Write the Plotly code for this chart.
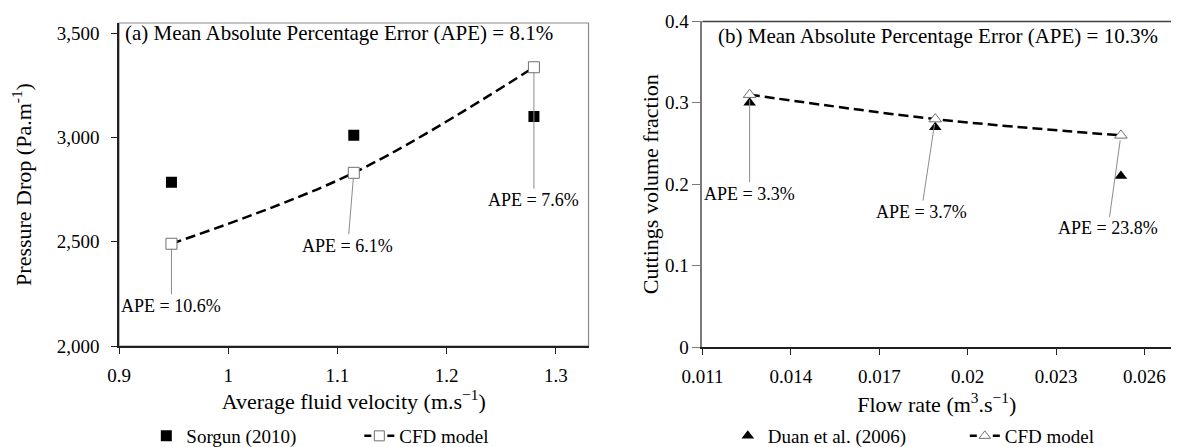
import plotly.graph_objects as go

# ---------------- data ----------------
velocity = [0.948, 1.115, 1.28]
sorgun = [2785, 3010, 3100]
cfd_a = [2490, 2830, 3336]
ape_a = ["APE = 10.6%", "APE = 6.1%", "APE = 7.6%"]

flow = [0.0126, 0.0189, 0.0252]
duan = [0.30, 0.27, 0.21]
cfd_b = [0.31, 0.28, 0.26]
ape_b = ["APE = 3.3%", "APE = 3.7%", "APE = 23.8%"]

xticks_a = [0.9, 1, 1.1, 1.2, 1.3]
yticks_a = [2000, 2500, 3000, 3500]
xticks_b = [0.011, 0.014, 0.017, 0.02, 0.023, 0.026]
yticks_b = [0, 0.1, 0.2, 0.3, 0.4]

title_a = "(a) Mean Absolute Percentage Error (APE) = 8.1%"
title_b = "(b) Mean Absolute Percentage Error (APE) = 10.3%"

# ---------------- styling ----------------
FONT = "Liberation Serif, Times New Roman, serif"
W, H = 1194, 447
GRAY = "#8c8c8c"
MARKER_EDGE = "#707070"

fig = go.Figure()

# panel (a)
fig.add_trace(go.Scatter(
    x=velocity, y=sorgun, mode="markers", name="Sorgun (2010)",
    marker=dict(symbol="square", size=11, color="black"),
    xaxis="x", yaxis="y", legend="legend"))
fig.add_trace(go.Scatter(
    x=velocity, y=cfd_a, mode="lines+markers", name="CFD model",
    line=dict(color="black", width=2.5, dash="10px,5px", shape="spline"),
    marker=dict(symbol="square", size=11, color="white",
                line=dict(color=MARKER_EDGE, width=1)),
    xaxis="x", yaxis="y", showlegend=False))
# legend proxy with "- □ -" look
fig.add_trace(go.Scatter(
    x=[None], y=[None], mode="lines+markers", name="CFD model",
    line=dict(color="black", width=2.5, dash="7px,16px,7px"),
    marker=dict(symbol="square", size=10, color="white",
                line=dict(color=MARKER_EDGE, width=1)),
    xaxis="x", yaxis="y", legend="legend"))

# panel (b)
fig.add_trace(go.Scatter(
    x=flow, y=duan, mode="markers", name="Duan et al. (2006)",
    marker=dict(symbol="triangle-up", size=11, color="black"),
    xaxis="x2", yaxis="y2", legend="legend2"))
fig.add_trace(go.Scatter(
    x=flow, y=cfd_b, mode="lines+markers", name="CFD model",
    line=dict(color="black", width=2.5, dash="10px,5px", shape="spline"),
    marker=dict(symbol="triangle-up", size=11, color="white",
                line=dict(color=MARKER_EDGE, width=1)),
    xaxis="x2", yaxis="y2", showlegend=False))
fig.add_trace(go.Scatter(
    x=[None], y=[None], mode="lines+markers", name="CFD model",
    line=dict(color="black", width=2.5, dash="7px,16px,7px"),
    marker=dict(symbol="triangle-up", size=10, color="white",
                line=dict(color=MARKER_EDGE, width=1)),
    xaxis="x2", yaxis="y2", legend="legend2"))

# annotation offsets (pixels) for APE labels
off_a = [(0, 62), (-6, 73), (0, 133)]
off_b = [(0, 99), (-14, 93), (-13, 93)]

annotations = []
for xv, yv, t, (ax, ay) in zip(velocity, cfd_a, ape_a, off_a):
    annotations.append(dict(x=xv, y=yv, xref="x", yref="y", text=t,
                            showarrow=True, arrowhead=0, arrowwidth=1,
                            arrowcolor=GRAY, ax=ax, ay=ay, standoff=5,
                            font=dict(family=FONT, size=18, color="black")))
for xv, yv, t, (ax, ay) in zip(flow, cfd_b, ape_b, off_b):
    annotations.append(dict(x=xv, y=yv, xref="x2", yref="y2", text=t,
                            showarrow=True, arrowhead=0, arrowwidth=1,
                            arrowcolor=GRAY, ax=ax, ay=ay, standoff=5,
                            font=dict(family=FONT, size=18, color="black")))

annotations.append(dict(x=118 / W, y=1 - 25 / H, xref="paper", yref="paper",
                        text=title_a, showarrow=False, xanchor="left",
                        yanchor="middle",
                        font=dict(family=FONT, size=21, color="black")))
annotations.append(dict(x=727 / W, y=1 - 28 / H, xref="paper", yref="paper",
                        text=title_b, showarrow=False, xanchor="left",
                        yanchor="middle",
                        font=dict(family=FONT, size=21, color="black")))

shapes = [
    dict(type="rect", xref="x domain", yref="y domain", x0=0, x1=1, y0=0, y1=1,
         line=dict(color="#8a8a8a", width=1.2), layer="below"),
    dict(type="line", xref="x2 domain", yref="y2 domain", x0=0, x1=1, y0=1, y1=1,
         line=dict(color="#404040", width=1.5)),
]

tickfont = dict(family=FONT, size=19, color="black")
titlefont = dict(family=FONT, size=22, color="black")

fig.update_layout(
    width=W, height=H,
    margin=dict(l=0, r=0, t=0, b=0),
    paper_bgcolor="white", plot_bgcolor="white",
    font=dict(family=FONT, color="black"),
    annotations=annotations, shapes=shapes,
    xaxis=dict(domain=[114 / W, 596 / W], range=[0.9, 1.33],
               tickvals=xticks_a, ticktext=[str(v) for v in xticks_a],
               showgrid=False, zeroline=False, showline=True,
               linecolor="#202020", linewidth=1.5, ticks="outside",
               ticklen=6, tickcolor="#202020", tickfont=tickfont,
               ticklabelstandoff=5,
               automargin=False, anchor="y",
               title=dict(text="Average fluid velocity (m.s<sup>−1</sup>)",
                          font=titlefont, standoff=1)),
    yaxis=dict(domain=[1 - 338 / H, 1 - 15 / H], range=[2000, 3548],
               tickvals=yticks_a, tickformat=",",
               showgrid=False, zeroline=False, showline=True,
               linecolor="#202020", linewidth=1.5, ticks="outside",
               ticklen=6, tickcolor="#202020", tickfont=tickfont,
               ticklabelstandoff=8,
               automargin=False, anchor="x",
               title=dict(text="Pressure Drop (Pa.m<sup>-1</sup>)",
                          font=titlefont, standoff=24)),
    xaxis2=dict(domain=[713 / W, 1.0], range=[0.011, 0.0269],
                tickvals=xticks_b, ticktext=[str(v) for v in xticks_b],
                showgrid=False, zeroline=False, showline=True,
                linecolor="#202020", linewidth=1.5, ticks="outside",
                ticklen=6, tickcolor="#202020", tickfont=tickfont,
                ticklabelstandoff=5,
                automargin=False, anchor="y2",
                title=dict(text="Flow rate (m<sup>3</sup>.s<sup>−1</sup>)",
                           font=titlefont, standoff=11)),
    yaxis2=dict(domain=[1 - 339 / H, 1 - 13.4 / H], range=[0, 0.4],
                tickvals=yticks_b, ticktext=[str(v) if v else "0" for v in yticks_b],
                showgrid=False, zeroline=False, showline=True,
                linecolor="#7a7a7a", linewidth=2, ticks="outside",
                ticklen=8, tickcolor="#7a7a7a", tickfont=tickfont,
                automargin=False, anchor="x2",
                title=dict(text="Cuttings volume fraction",
                           font=titlefont, standoff=0)),
    legend=dict(orientation="h", x=142 / W, xanchor="left",
                y=1 - 428 / H, yanchor="middle",
                entrywidth=168, entrywidthmode="pixels",
                font=dict(family=FONT, size=19, color="black"),
                bgcolor="rgba(0,0,0,0)", borderwidth=0),
    legend2=dict(orientation="h", x=739 / W, xanchor="left",
                 y=1 - 428 / H, yanchor="middle",
                 entrywidth=192, entrywidthmode="pixels",
                 font=dict(family=FONT, size=19, color="black"),
                 bgcolor="rgba(0,0,0,0)", borderwidth=0),
    showlegend=True,
)

fig.write_html("out.html")
